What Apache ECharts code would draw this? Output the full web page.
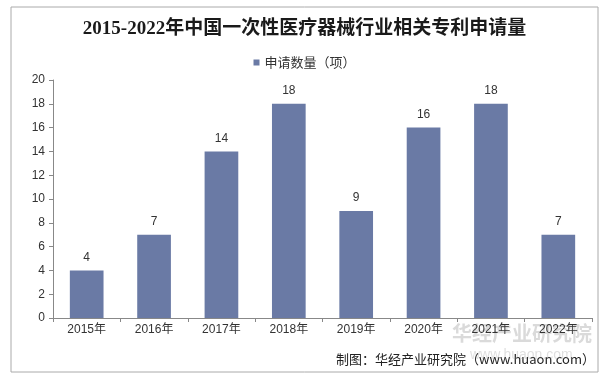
<!DOCTYPE html>
<html><head><meta charset="utf-8">
<script src="https://cdn.jsdelivr.net/npm/echarts@6/dist/echarts.min.js"></script>
<style>html,body{margin:0;padding:0;background:#fff}#c{width:609px;height:381px}</style>
</head><body><div id="c"></div>
<script>
const categories = ['2015年','2016年','2017年','2018年','2019年','2020年','2021年','2022年'];
const values = [4, 7, 14, 18, 9, 16, 18, 7];
const seriesName = '申请数量（项）';
const titleText = '2015-2022年中国一次性医疗器械行业相关专利申请量';
const footerText = '制图：华经产业研究院（www.huaon.com）';

const chart = echarts.init(document.getElementById('c'), null, {renderer:'canvas'});
chart.setOption({
  backgroundColor:'#fff',
  animation:false,
  title:{text:titleText,left:'center',top:15,
    textStyle:{fontFamily:'"Liberation Serif","Noto Sans CJK SC"',fontWeight:'bold',fontSize:19,color:'#1a1a1a'}},
  legend:{top:51,left:'center',itemWidth:6,itemHeight:6,icon:'rect',itemGap:4,
    textStyle:{fontFamily:'"Noto Sans CJK SC"',fontSize:13,color:'#333'},data:[seriesName]},
  grid:{left:53,right:17,top:80,bottom:63,containLabel:false},
  xAxis:{type:'category',data:categories,boundaryGap:true,
    axisLine:{lineStyle:{color:'#888'}},
    axisTick:{show:true,length:4,lineStyle:{color:'#888'}},
    axisLabel:{color:'#333',fontSize:12,margin:6,fontFamily:'"Liberation Sans","Noto Sans CJK SC"'}},
  yAxis:{type:'value',min:0,max:20,interval:2,
    axisLine:{show:true,lineStyle:{color:'#888'}},
    axisTick:{show:true,inside:false,length:4,lineStyle:{color:'#888'}},
    splitLine:{show:false},
    axisLabel:{color:'#333',fontSize:12,margin:8,fontFamily:'"Liberation Sans"'}},
  series:[{name:seriesName,type:'bar',data:values,barCategoryGap:'50%',
    itemStyle:{color:'#6A7AA5'},
    label:{show:true,position:'top',distance:7,color:'#333',fontSize:12,fontFamily:'"Liberation Sans"'}}],
  graphic:[
    {type:'rect',shape:{x:11,y:7,width:587,height:365},style:{fill:'none',stroke:'#aaa',lineWidth:1},silent:true,z:-1},
    {type:'text',right:14,top:353,style:{text:footerText,fontSize:13,fill:'#222',fontFamily:'"Noto Sans CJK SC"'}},
    {type:'text',left:452,top:323,style:{text:'华经产业研究院',fontSize:20,fontWeight:'bold',fill:'rgba(150,150,150,0.35)',fontFamily:'"Noto Sans CJK SC"'}},
    {type:'text',left:470,top:348,style:{text:'www.huaon.com',fontSize:14,fill:'rgba(150,150,150,0.3)',fontFamily:'"Liberation Sans"'}}
  ]
});
</script></body></html>
